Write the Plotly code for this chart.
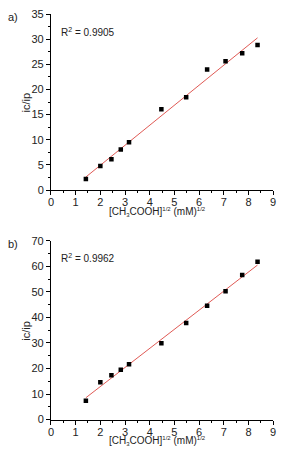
import numpy as np
import plotly.graph_objects as go

# Data
x_vals = [1.414, 2.0, 2.449, 2.828, 3.162, 4.472, 5.477, 6.325, 7.071, 7.746, 8.367]
y_a = [2.2, 4.78, 6.13, 8.07, 9.49, 16.08, 18.47, 23.96, 25.64, 27.19, 28.87]
y_b = [7.38, 14.64, 17.31, 19.47, 21.64, 29.91, 37.8, 44.55, 50.28, 56.64, 61.86]
r2_labels = ["R<sup>2</sup> = 0.9905", "R<sup>2</sup> = 0.9962"]
panel_labels = ["a)", "b)"]
x_title = ("[CH<sub><span style='font-size:6px'>3</span></sub>COOH]"
           "<sup><span style='font-size:6px'>1/2</span></sup> (mM)"
           "<sup><span style='font-size:6px'>1/2</span></sup>")
y_title = "ic/ip"

W, H = 284, 456
FONT = "Liberation Sans, Arial, sans-serif"
TXT = "#222"

def fit_line(x, y):
    k, b = np.polyfit(x, y, 1)
    xs = np.array([min(x), max(x)])
    return xs, k * xs + b

fig = go.Figure()

panels = [
    dict(y=y_a, xa="x", ya="y", rng=[0, 35], dt=5, mdt=2.5, top=8.3, bot=189),
    dict(y=y_b, xa="x2", ya="y2", rng=[0, 70], dt=10, mdt=5, top=241.3, bot=424.7),
]

for i, p in enumerate(panels):
    fx, fy = fit_line(x_vals, p["y"])
    fig.add_trace(go.Scatter(x=fx, y=fy, mode="lines", line=dict(color="#e05a55", width=1),
                             xaxis=p["xa"], yaxis=p["ya"], showlegend=False, hoverinfo="skip"))
    fig.add_trace(go.Scatter(x=x_vals, y=p["y"], mode="markers",
                             marker=dict(symbol="square", size=4.5, color="black"),
                             xaxis=p["xa"], yaxis=p["ya"], showlegend=False))
    sfx = "" if i == 0 else "2"
    ydom = [1 - p["bot"] / H, 1 - p["top"] / H]
    axis_common = dict(showline=True, linecolor="black", linewidth=1, ticks="outside",
                       ticklen=4, tickwidth=1, tickcolor="black", showgrid=False, zeroline=False,
                       tickfont=dict(family=FONT, size=11, color=TXT),
                       minor=dict(ticks="outside", ticklen=2, tickcolor="black", showgrid=False))
    fig.layout["xaxis" + sfx] = dict(axis_common, range=[0, 9], dtick=1, tick0=0,
                                     domain=[49 / W, 276 / W], anchor="y" + sfx,
                                     ticklabelstandoff=-2,
                                     minor=dict(axis_common["minor"], dtick=0.5))
    fig.layout["yaxis" + sfx] = dict(axis_common, range=p["rng"], dtick=p["dt"], tick0=0,
                                     domain=ydom, anchor="x" + sfx,
                                     minor=dict(axis_common["minor"], dtick=p["mdt"]))
    # axis titles
    fig.add_annotation(text=x_title, x=158 / W, y=1 - (p["bot"] + 22.5) / H, xref="paper", yref="paper",
                       xanchor="center", yanchor="middle", showarrow=False,
                       font=dict(family=FONT, size=10, color=TXT))
    fig.add_annotation(text=y_title, x=24 / W, y=1 - ((p["top"] + p["bot"]) / 2) / H, xref="paper",
                       yref="paper", xanchor="center", yanchor="middle", textangle=-90, showarrow=False,
                       font=dict(family=FONT, size=11, color=TXT))
    fig.add_annotation(text=r2_labels[i], x=57 / W, y=1 - (p["top"] + 18) / H, xref="paper", yref="paper",
                       xanchor="left", yanchor="middle", showarrow=False,
                       font=dict(family=FONT, size=10, color=TXT))
    fig.add_annotation(text=panel_labels[i], x=3 / W, y=1 - (p["top"] + 3) / H, xref="paper", yref="paper",
                       xanchor="left", yanchor="middle", showarrow=False,
                       font=dict(family=FONT, size=11, color=TXT))

fig.update_layout(width=W, height=H, margin=dict(l=0, r=0, t=0, b=0),
                  plot_bgcolor="white", paper_bgcolor="white")

fig.write_html("out.html")
